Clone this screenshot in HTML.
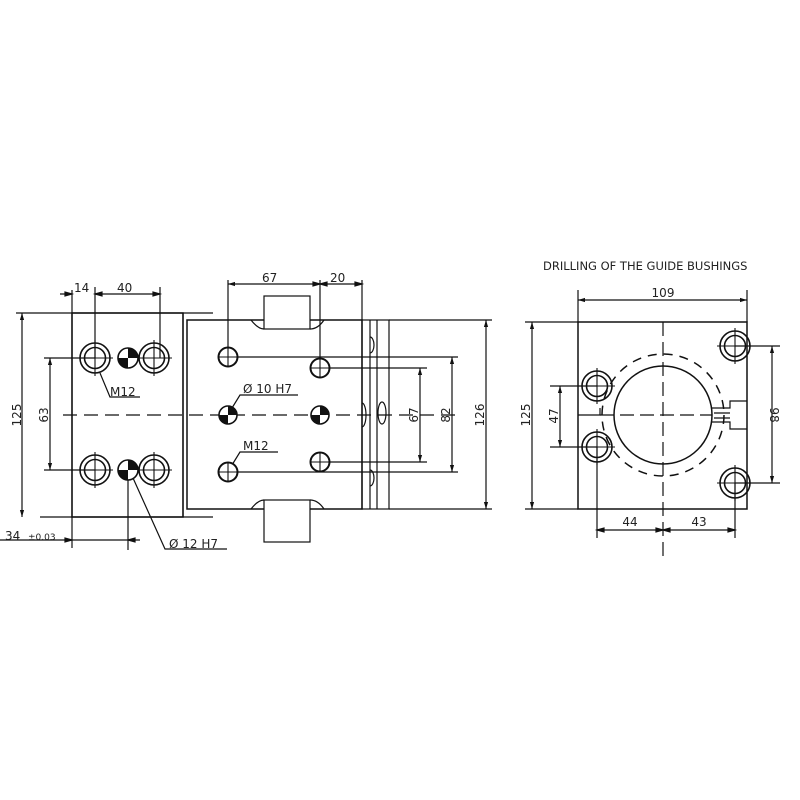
<!DOCTYPE html>
<html><head><style>body{margin:0;background:#fff}svg{display:block}text{font-family:"DejaVu Sans","Liberation Sans",sans-serif;fill:#222}</style></head>
<body>
<svg width="800" height="800" viewBox="0 0 800 800" xmlns="http://www.w3.org/2000/svg">
<defs>
<marker id="a" viewBox="0 0 10 10" refX="10" refY="5" markerWidth="6" markerHeight="6" orient="auto-start-reverse"><path d="M0,2 L10,5 L0,8z" fill="#111"/></marker>
<g id="m12"><circle r="15" fill="none" stroke="#111" stroke-width="1.6"/><circle r="10.5" fill="none" stroke="#111" stroke-width="1.6"/><path d="M-18,0H18M0,-18V18" stroke="#111" stroke-width="1.1"/></g>
<g id="dw"><circle r="10" fill="#fff" stroke="#111" stroke-width="1.6"/><path d="M0,0V-10A10,10 0 0 1 10,0Z M0,0V10A10,10 0 0 1 -10,0Z" fill="#111"/></g>
<g id="dws"><circle r="9" fill="#fff" stroke="#111" stroke-width="1.6"/><path d="M0,0V-9A9,9 0 0 1 9,0Z M0,0V9A9,9 0 0 1 -9,0Z" fill="#111"/></g>
<g id="ph"><circle r="9.5" fill="#fff" stroke="#111" stroke-width="2"/><path d="M-9,0H9M0,-9V9" stroke="#111" stroke-width="1.1"/></g>
</defs>
<g stroke="#111" stroke-width="1.2" fill="none">
<!-- LEFT BLOCK -->
<rect x="72" y="313" width="111" height="204" stroke-width="1.5"/>
<path d="M16,313H213M40,517H213M72,290V548"/>
<path d="M63,415H460" stroke-dasharray="14,7"/>
<path d="M22,313V517" marker-start="url(#a)" marker-end="url(#a)"/>
<path d="M50,358V470" marker-start="url(#a)" marker-end="url(#a)"/>
<path d="M44,358H95M44,470H95"/>
<path d="M95,287V358M160,287V358"/>
<path d="M60,294H72M95,294H160" />
<path d="M72,294l-7,-2v4z M95,294l7,-2v4z M160,294l-7,-2v4z" fill="#111"/>
<path d="M128,470V550M0,540H140"/>
<path d="M72,540l-7,-2v4z M128,540l7,-2v4z" fill="#111"/>
<path d="M100,373L110,397H140"/>
<path d="M133,478L165,549H227"/>
<!-- MIDDLE BLOCK -->
<rect x="187" y="320" width="175" height="189" stroke-width="1.5"/>
<path d="M183,313V517"/>
<rect x="362" y="320" width="27" height="189"/>
<path d="M370,320V509M377,320V509M389,320H492M389,509H492"/>
<rect x="264" y="296" width="46" height="33" fill="#fff"/>
<rect x="264" y="500" width="46" height="42" fill="#fff"/>
<path d="M251,320Q258,329 264,329M310,329Q318,329 324,320M251,509Q258,500 264,500M310,500Q318,500 324,509"/>
<path d="M370,337A4,8 0 0 1 370,353M370,470A4,8 0 0 1 370,486M362,403A4,12 0 0 1 362,427"/>
<ellipse cx="382" cy="413" rx="4" ry="11"/>
<path d="M228,357H458M320,368H427M320,462H427M228,472H458"/>
<path d="M228,280V357M320,280V368M362,280V320"/>
<path d="M228,284H362" marker-start="url(#a)"/>
<path d="M320,284l-7,-2v4z M320,284l7,-2v4z M362,284l-7,-2v4z" fill="#111"/>
<path d="M420,368V462" marker-start="url(#a)" marker-end="url(#a)"/>
<path d="M452,357V472" marker-start="url(#a)" marker-end="url(#a)"/>
<path d="M486,320V509" marker-start="url(#a)" marker-end="url(#a)"/>
<path d="M232,408L240,395H298M232,465L240,452H278"/>
<!-- RIGHT VIEW -->
<rect x="578" y="322" width="169" height="187" stroke-width="1.5"/>
<circle cx="663" cy="415" r="49" stroke-width="1.5"/>
<circle cx="663" cy="415" r="61" stroke-width="1.5" stroke-dasharray="9,7"/>
<path d="M663,322V560M600,415H712" stroke-dasharray="14,6"/>
<path d="M578,415H600V408"/>
<path d="M711,408H730V401H747M711,422H730V429H747M714,413H730M714,418H730"/>
<path d="M578,290V322M747,290V322"/>
<path d="M578,300H747" marker-start="url(#a)" marker-end="url(#a)"/>
<path d="M525,322H578M525,509H578"/>
<path d="M532,322V509" marker-start="url(#a)" marker-end="url(#a)"/>
<path d="M550,386H597M550,447H597"/>
<path d="M560,386V447" marker-start="url(#a)" marker-end="url(#a)"/>
<path d="M735,346H780M735,483H780"/>
<path d="M772,346V483" marker-start="url(#a)" marker-end="url(#a)"/>
<path d="M597,447V538M735,483V538"/>
<path d="M597,530H735"/>
<path d="M597,530l7,-2v4z M663,530l-7,-2v4z M663,530l7,-2v4z M735,530l-7,-2v4z" fill="#111"/>
</g>
<use href="#m12" x="95" y="358"/><use href="#m12" x="154" y="358"/>
<use href="#m12" x="95" y="470"/><use href="#m12" x="154" y="470"/>
<use href="#dw" x="128" y="358"/><use href="#dw" x="128" y="470"/>
<use href="#ph" x="228" y="357"/><use href="#ph" x="320" y="368"/>
<use href="#ph" x="320" y="462"/><use href="#ph" x="228" y="472"/>
<use href="#dws" x="228" y="415"/><use href="#dws" x="320" y="415"/>
<use href="#m12" x="597" y="386"/><use href="#m12" x="597" y="447"/>
<use href="#m12" x="735" y="346"/><use href="#m12" x="735" y="483"/>
<g font-size="12">
<text x="74" y="292">14</text><text x="117" y="292">40</text>
<text x="110" y="396">M12</text>
<text x="5" y="540">34</text><text x="28" y="540" font-size="9">±0.03</text>
<text x="169" y="548">Ø 12 H7</text>
<text transform="translate(21,415) rotate(-90)" text-anchor="middle">125</text>
<text transform="translate(48,415) rotate(-90)" text-anchor="middle">63</text>
<text x="262" y="282">67</text><text x="330" y="282">20</text>
<text x="243" y="393">Ø 10 H7</text>
<text x="243" y="450">M12</text>
<text transform="translate(418,415) rotate(-90)" text-anchor="middle">67</text>
<text transform="translate(450,415) rotate(-90)" text-anchor="middle">82</text>
<text transform="translate(484,415) rotate(-90)" text-anchor="middle">126</text>
<text x="543" y="270" font-size="11.5">DRILLING OF THE GUIDE BUSHINGS</text>
<text x="663" y="297" text-anchor="middle">109</text>
<text transform="translate(530,415) rotate(-90)" text-anchor="middle">125</text>
<text transform="translate(558,416) rotate(-90)" text-anchor="middle">47</text>
<text transform="translate(770,415) rotate(90)" text-anchor="middle">98</text>
<text x="630" y="526" text-anchor="middle">44</text><text x="699" y="526" text-anchor="middle">43</text>
</g>
</svg>
</body></html>
